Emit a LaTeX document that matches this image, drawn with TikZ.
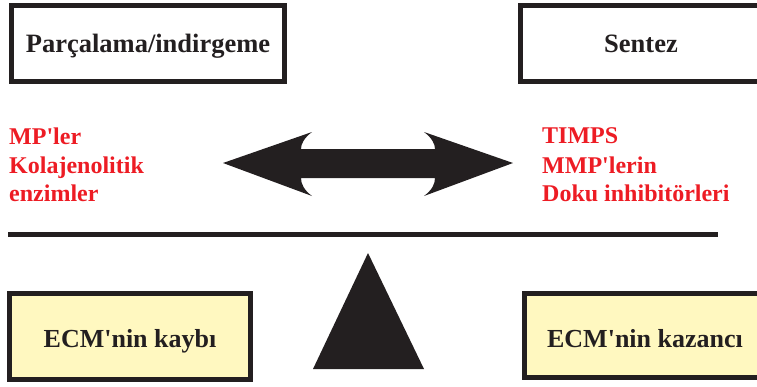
\documentclass[tikz,border=0pt]{standalone}
\usepackage{fontspec}
\setmainfont{Liberation Serif}
\definecolor{ink}{RGB}{35,31,32}
\definecolor{redtext}{RGB}{237,28,36}
\definecolor{paleyellow}{RGB}{255,248,192}
\tikzset{
  frame/.style={draw=ink, line width=5pt, rectangle, inner sep=0pt, align=center},
  toplabel/.style={frame, fill=white, minimum height=76pt, text height=17pt, text depth=0pt,
                   font=\fontsize{26.5}{30}\selectfont\bfseries, text=ink},
  ecmbox/.style={frame, fill=paleyellow, font=\fontsize{26}{30}\selectfont\bfseries, text=ink},
  enzyme/.style={inner sep=0pt, anchor=base west, text=redtext, font=\fontsize{24}{28}\selectfont\bfseries},
  solidshape/.style={fill=ink, draw=none}
}
\begin{document}
\begin{tikzpicture}[x=1pt, y=-1pt]
  \useasboundingbox (0,0) rectangle (757,386);

  % header boxes
  \node[toplabel, minimum width=273pt] (degrade) at (148,43.5) {Parçalama/indirgeme};
  \node[toplabel, minimum width=241pt] (synth) at (641,43.5) {Sentez};

  % enzymes on each side
  \node[enzyme] (mp)   at (9,144) {MP\textquotesingle ler};
  \node[enzyme] (kol)  at (9,173) {Kolajenolitik};
  \node[enzyme] (enz)  at (9,201) {enzimler};
  \node[enzyme] (timp) at (542,143) {TIMPS};
  \node[enzyme] (mmp)  at (542,173) {MMP\textquotesingle lerin};
  \node[enzyme] (doku) at (542,201) {Doku inhibitörleri};

  % double-headed balance arrow
  \fill[solidshape] (223,163) -- (312,132)
    .. controls (304,138) and (301,144) .. (301,149)
    -- (435,149)
    .. controls (435,144) and (432,138) .. (424,132)
    -- (513,163) -- (424,196)
    .. controls (432,190) and (435,184) .. (435,178)
    -- (301,178)
    .. controls (301,184) and (304,190) .. (312,196)
    -- cycle;

  % balance beam
  \coordinate (beamL) at (8,234.5);
  \coordinate (beamR) at (718,234.5);
  \draw[ink, line width=5pt] (beamL) -- (beamR);

  % fulcrum
  \fill[solidshape] (368,253) -- (424,369) -- (313,369) -- cycle;

  % outcome boxes
  \node[ecmbox, minimum width=241pt, minimum height=86pt, text height=21pt, text depth=0pt]
    (loss) at (130,336.5) {ECM\textquotesingle nin kaybı};
  \node[ecmbox, minimum width=241pt, minimum height=84pt, text height=23pt, text depth=0pt]
    (gain) at (645,335.5) {ECM\textquotesingle nin kazancı};
\end{tikzpicture}
\end{document}
